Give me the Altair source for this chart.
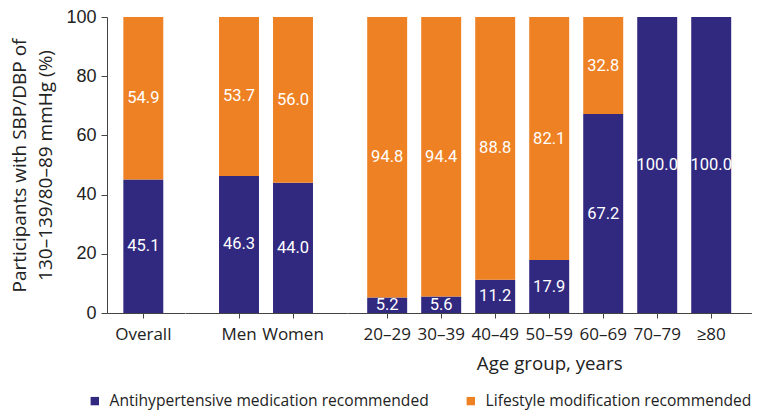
import altair as alt
import pandas as pd

groups = ["Overall", "Men", "Women", "20–29", "30–39", "40–49", "50–59", "60–69", "70–79", "≥80"]
panels = ["Overall", "Sex", "Sex", "Age", "Age", "Age", "Age", "Age", "Age", "Age"]
medication = [45.1, 46.3, 44.0, 5.2, 5.6, 11.2, 17.9, 67.2, 100.0, 100.0]
lifestyle = [54.9, 53.7, 56.0, 94.8, 94.4, 88.8, 82.1, 32.8, 0.0, 0.0]
series = ["Antihypertensive medication recommended", "Lifestyle modification recommended"]
colors = ["#31287f", "#ee8124"]
y_ticks = [0, 20, 40, 60, 80, 100]
y_title = ["Participants with SBP/DBP of", "130–139/80–89 mmHg (%)"]
x_title = "Age group, years"

rows = []
for g, p, m, l in zip(groups, panels, medication, lifestyle):
    rows.append({"group": g, "panel": p, "series": series[0], "rank": 0, "value": m})
    rows.append({"group": g, "panel": p, "series": series[1], "rank": 1, "value": l})
df = pd.DataFrame(rows)

FONT = "Open Sans"
AX = "#444444"

legend = alt.Legend(
    title=None, orient="none", direction="horizontal", legendX=-20, legendY=376,
    symbolType="square", symbolSize=70, symbolStrokeWidth=0,
    labelFont=FONT, labelFontSize=15.6, labelColor="#222222", labelLimit=500,
    labelOffset=7, columnPadding=34,
)


def panel(name, width, pad_outer, align=0.5, first=False, xtitle=None):
    dom = [g for g, p in zip(groups, panels) if p == name]
    base = (
        alt.Chart(df)
        .transform_filter(alt.datum.panel == name)
        .transform_stack(stack="value", groupby=["group"], as_=["v0", "v1"],
                         sort=[alt.SortField("rank", order="ascending")])
        .transform_calculate(mid="(datum.v0 + datum.v1) / 2")
    )
    xaxis = alt.Axis(
        title=xtitle, labelAngle=0, labelFont=FONT, labelFontSize=17, labelColor="#222222",
        labelPadding=8, tickSize=5, tickColor=AX, domainColor=AX, grid=False,
        titleFont=FONT, titleFontSize=18.7, titleFontWeight="normal", titleColor="#222222",
        titlePadding=12,
    )
    if first:
        yaxis = alt.Axis(
            title=y_title, values=y_ticks, labelFont="Liberation Sans", labelFontSize=18,
            labelColor="#222222", labelPadding=5, tickSize=6, tickColor=AX, domainColor=AX,
            grid=False, titleFont=FONT, titleFontSize=19, titleFontWeight="normal",
            titleColor="#222222", titlePadding=10, titleLineHeight=26,
        )
    else:
        yaxis = None
    xenc = alt.X("group:N", sort=dom,
                 scale=alt.Scale(domain=dom, paddingInner=0.26, paddingOuter=pad_outer,
                                 align=align, round=False),
                 axis=xaxis)
    yscale = alt.Scale(domain=[0, 100], nice=False)
    bars = base.mark_bar().encode(
        x=xenc,
        y=alt.Y("v0:Q", scale=yscale, axis=yaxis),
        y2="v1:Q",
        color=alt.Color("series:N", scale=alt.Scale(domain=series, range=colors), legend=legend),
    )
    text = base.transform_filter(alt.datum.value > 0).mark_text(
        font="Roboto", fontSize=16.5, color="white", align="center", baseline="middle"
    ).encode(
        x=xenc,
        y=alt.Y("mid:Q", scale=yscale, axis=yaxis),
        text=alt.Text("value:Q", format=".1f"),
    )
    return alt.layer(bars, text).properties(width=width, height=296)


chart = (
    alt.hconcat(
        panel("Overall", 77.6, 0.349, align=0.434, first=True),
        panel("Sex", 162, 0.63),
        panel("Age", 404.4, 0.374, xtitle=x_title),
        spacing=0,
    )
    .resolve_scale(x="independent", y="independent", color="shared")
    .resolve_legend(color="shared")
    .configure_view(stroke=None)
    .configure_concat(spacing=0)
    .properties(padding={"left": 2, "top": 0, "right": 0, "bottom": 0})
)

chart.save("out.html", embed_options={"renderer": "svg", "actions": False})
